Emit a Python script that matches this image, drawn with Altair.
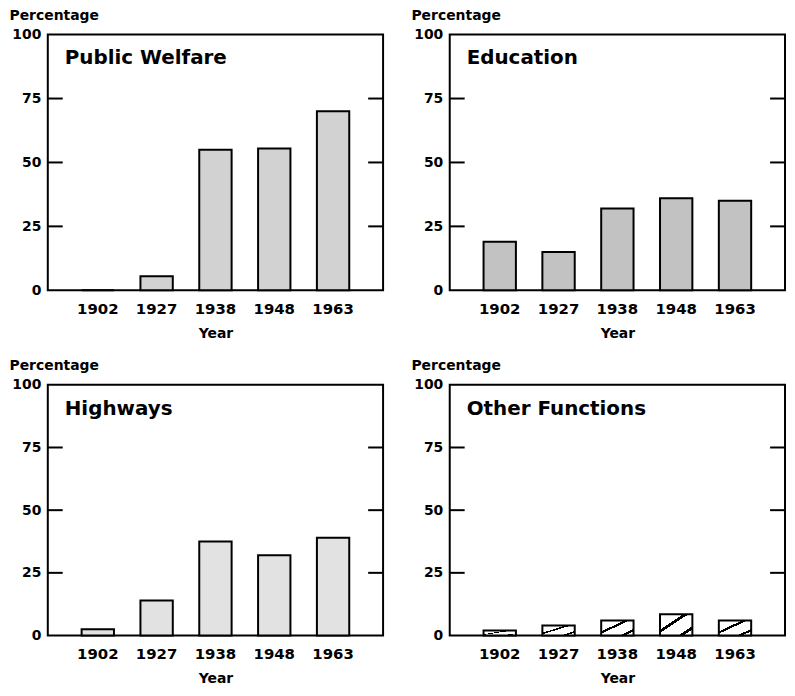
import altair as alt
import pandas as pd

years = ["1902", "1927", "1938", "1948", "1963"]
welfare = [0, 5.5, 55, 55.5, 70]
education = [19, 15, 32, 36, 35]
highways = [2.5, 14, 37.5, 32, 39]
other = [2, 4, 6, 8.5, 6]
y_labels = [0, 25, 50, 75, 100]
inner_ticks = [25, 50, 75]

FONT = "DejaVu Sans"
W = 337


def hatch():
    stops = [(0, "white"), (0.36, "white"), (0.36, "black"), (0.44, "black"), (0.44, "white"),
             (0.78, "white"), (0.78, "black"), (0.86, "black"), (0.86, "white"), (1, "white")]
    return alt.LinearGradient(
        gradient="linear", x1=0, y1=0, x2=1, y2=1,
        stops=[alt.GradientStop(offset=o, color=c) for o, c in stops],
    )


def panel(name, values, fill, height):
    df = pd.DataFrame({"year": years, "value": values})
    tdf = pd.DataFrame({"value": inner_ticks})
    ndf = pd.DataFrame({"name": [name]})

    x = alt.X(
        "year:N", sort=years,
        scale=alt.Scale(paddingInner=0.45, paddingOuter=0.575),
        axis=alt.Axis(title="Year", labelAngle=0, ticks=False, domain=False,
                      labelFont=FONT, labelFontWeight="bold", labelFontSize=15,
                      labelPadding=11, labelColor="black",
                      titleFont=FONT, titleFontWeight="bold", titleFontSize=14,
                      titlePadding=10, titleColor="black"),
    )
    y = alt.Y(
        "value:Q",
        scale=alt.Scale(domain=[0, 100], nice=False),
        axis=alt.Axis(values=y_labels, title="Percentage", titleAngle=0,
                      titleAlign="left", titleBaseline="alphabetic",
                      titleX=-39, titleY=-15,
                      ticks=False, domain=False, grid=False,
                      labelFont=FONT, labelFontWeight="bold", labelFontSize=14,
                      labelPadding=7, labelColor="black",
                      titleFont=FONT, titleFontWeight="bold", titleFontSize=14,
                      titleColor="black"),
    )

    bars = alt.Chart(df).mark_bar(fill=fill, stroke="black", strokeWidth=2).encode(x=x, y=y)
    lt = alt.Chart(tdf).mark_rule(color="black", strokeWidth=2).encode(
        y=y, x=alt.value(0), x2=alt.value(15))
    rt = alt.Chart(tdf).mark_rule(color="black", strokeWidth=2).encode(
        y=y, x=alt.value(W - 15), x2=alt.value(W))
    label = alt.Chart(ndf).mark_text(
        align="left", baseline="alphabetic", font=FONT, fontSize=20,
        fontWeight="bold", color="black"
    ).encode(x=alt.value(17), y=alt.value(30), text="name:N")

    return alt.layer(bars, lt, rt, label).properties(width=W, height=height)


top = alt.hconcat(
    panel("Public Welfare", welfare, "#d2d2d2", 257),
    panel("Education", education, "#c2c2c2", 257),
    spacing=25,
)
bottom = alt.hconcat(
    panel("Highways", highways, "#e2e2e2", 252),
    panel("Other Functions", other, hatch(), 252),
    spacing=25,
)

chart = alt.vconcat(top, bottom, spacing=17).properties(
    padding={"left": 0, "top": -2, "right": 0, "bottom": 0}
).configure(background="white").configure_view(stroke="black", strokeWidth=2)

chart.save("out.html", embed_options={"renderer": "svg", "actions": False})
